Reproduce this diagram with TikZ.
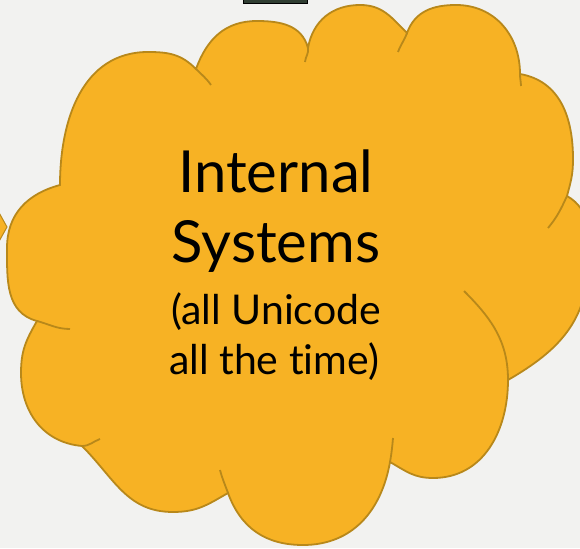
\documentclass[tikz,border=0pt]{standalone}
\usepackage{fontspec}
\setmainfont{Lato}[Ligatures=NoCommon]
\usepackage{tikz}
\definecolor{sunflower}{RGB}{247, 178, 36}
\definecolor{goldrod}{RGB}{184, 136, 26}
\definecolor{paper}{RGB}{242, 242, 240}
\definecolor{slate}{RGB}{48, 62, 50}

\begin{document}
\begin{tikzpicture}[x=1pt, y=1pt,
        lobe/.style={draw=goldrod, line width=1.8pt, fill=sunflower, looseness=1.05},
        tail/.style={draw=goldrod, line width=1.8pt},
        big/.style={font=\fontsize{58}{70}\selectfont, anchor=base},
        small/.style={font=\fontsize{41}{50}\selectfont, anchor=base}]
            % Frame to ensure alignment:
            \fill[paper] (0, 0) rectangle (580, 548);
            \useasboundingbox (0, 0) rectangle (580, 548);
            \clip (0, 0) rectangle (580, 548);
            % Neighbours peeking in
            \filldraw[fill=slate, draw=black, line width=0.8pt] (243, 545) rectangle (307, 556);
            \filldraw[fill=sunflower, draw=goldrod, line width=1pt] (-3, 339) -- (7, 321) -- (-3, 303) -- cycle;
            % Cloud outline
            \path[lobe] (60, 363) to[out=90, in=180] (148, 496) to[out=0, in=135] (196, 479)
                 to[out=70, in=180] (257, 527) to[out=0, in=105] (308, 500)
                 to[out=80, in=180] (360, 543) to[out=0, in=135] (407, 515)
                 to[out=70, in=180] (456, 543) to[out=0, in=90] (520, 474)
                 to[out=-10, in=90] (573, 389) to[out=-90, in=75] (567, 352)
                 to[out=-30, in=90] (588, 286) to[out=-90, in=30] (508, 168)
                 to[out=-90, in=0] (433, 70) to[out=180, in=-30] (390, 86)
                 to[out=-100, in=0] (303, 3) to[out=180, in=-70] (228, 55)
                 to[out=-150, in=0] (173, 36) to[out=180, in=-45] (82, 102)
                 to[out=175, in=-90] (21, 175) to[out=90, in=-120] (37, 227)
                 to[out=165, in=-90] (7, 300) to[out=90, in=195] (60, 363) -- cycle;
            % Tails inside the cloud
            \draw[tail] (196, 479) to[out=-45, in=125] (211, 463);
            \draw[tail] (308, 500) to[out=-80, in=85] (305, 486);
            \draw[tail] (407, 515) to[out=-110, in=70] (398, 496);
            \draw[tail] (520, 474) to[out=-90, in=92] (521, 462);
            \draw[tail] (567, 352) to[out=-115, in=50] (548, 320);
            \draw[tail] (508, 168) to[out=90, in=-45] (464, 257);
            \draw[tail] (390, 86) to[out=80, in=-95] (393, 110);
            \draw[tail] (228, 55) to[out=110, in=-75] (220, 78);
            \draw[tail] (82, 102) to[out=0, in=200] (100, 109);
            \draw[tail] (37, 227) to[out=-15, in=180] (70, 219);
            % Text
            \node[big]   (internal) at (276, 355) {Internal};
            \node[big]   (systems)  at (276, 285) {Systems};
            \node[small] (unicode)  at (276, 223) {(all Unicode};
            \node[small] (time)     at (274, 173) {all the time)};
        \end{tikzpicture}
\end{document}
